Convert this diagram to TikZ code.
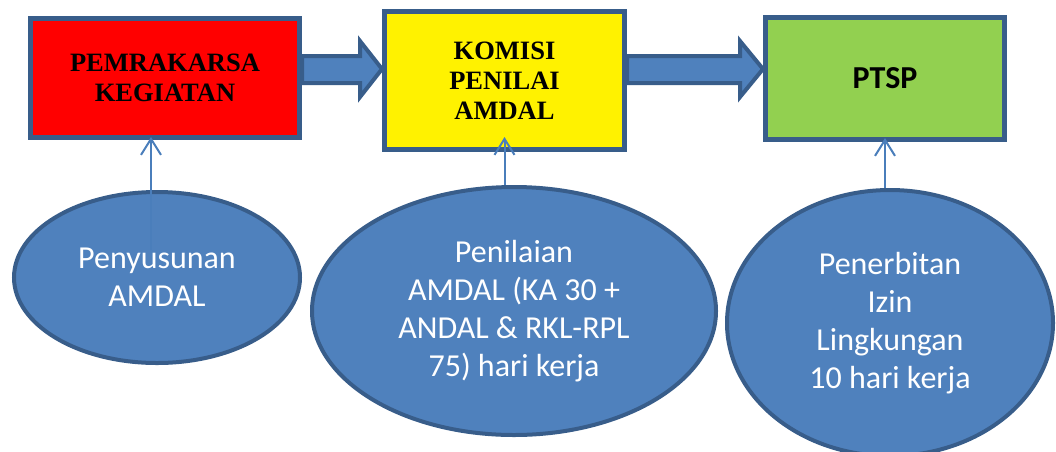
\documentclass[tikz,border=0pt]{standalone}
\usepackage{fontspec}
\setmainfont{Liberation Serif}
\newfontfamily\calibri{Carlito}
\usetikzlibrary{shapes.geometric,arrows.meta,backgrounds}
\definecolor{boxline}{HTML}{385D8A}
\definecolor{ovalfill}{HTML}{4F81BD}
\definecolor{pointer}{HTML}{4A7EBB}
\definecolor{ptspgreen}{HTML}{92D050}

\begin{document}
\begin{tikzpicture}[x=1pt,y=-1pt,
	kotak/.style={draw=boxline,line width=5pt,align=center,
		font=\bfseries\fontsize{26.5}{30}\selectfont},
	oval/.style={draw=boxline,ellipse,line width=4pt,fill=ovalfill,
		text=white,align=center,font=\calibri\fontsize{32}{38}\selectfont},
	panah/.style={draw=boxline,line width=4pt,fill=ovalfill,line join=miter},
	penunjuk/.style={draw=pointer,line width=2pt,
		-{Straight Barb[length=16pt,width=20pt]}}]
			\useasboundingbox (0,0) rectangle (1056,451);

			%Boxes
			\node[kotak,
			fill=red,
			minimum width=269pt,
			minimum height=119pt] (Pemrakarsa) at (165,78) {PEMRAKARSA\\KEGIATAN};
			
			\node[kotak,
			fill=yellow,
			minimum width=240pt,
			minimum height=138pt] (Komisi) at (504.5,80.5) {KOMISI\\PENILAI\\AMDAL};
			
			\node[kotak,
			fill=ptspgreen,
			minimum width=239pt,
			minimum height=122pt,
			font=\calibri\bfseries\fontsize{32}{38}\selectfont] (PTSP) at (885,78.5) {PTSP};

			%Block arrows
			\begin{pgfonlayer}{background}
				\draw[panah] (Pemrakarsa.east |- 0,56) -- (360,56) -- (360,41)
				-- (Komisi.west |- 0,69) -- (360,97) -- (360,83)
				-- (Pemrakarsa.east |- 0,83) -- cycle;
				\draw[panah] (Komisi.east |- 0,56) -- (740,56) -- (740,41)
				-- (PTSP.west |- 0,69) -- (740,97) -- (740,83)
				-- (Komisi.east |- 0,83) -- cycle;
			\end{pgfonlayer}

			%Ellipses
			\node[oval,
			minimum width=286pt,
			minimum height=171pt] (Penyusunan) at (157,277.5) {Penyusunan\\AMDAL};
			
			\node[oval,
			minimum width=404pt,
			minimum height=248pt] (Penilaian) at (514,311) {Penilaian\\AMDAL (KA 30 +\\ANDAL \& RKL-RPL\\75) hari kerja};
			
			\node[oval,
			minimum width=326pt,
			minimum height=266pt] (Penerbitan) at (890,323) {Penerbitan\\Izin\\Lingkungan\\10 hari kerja};

			%Pointers
			\draw[penunjuk] ([xshift=-6pt,yshift=28pt]Penyusunan.center) -- ([xshift=-14pt,yshift=3pt]Pemrakarsa.south);
			\draw[penunjuk] (Penilaian.north -| Komisi.south) -- ([yshift=15pt]Komisi.south);
			\draw[penunjuk] (Penerbitan.north -| PTSP.south) -- ([yshift=4pt]PTSP.south);
		\end{tikzpicture}
\end{document}
